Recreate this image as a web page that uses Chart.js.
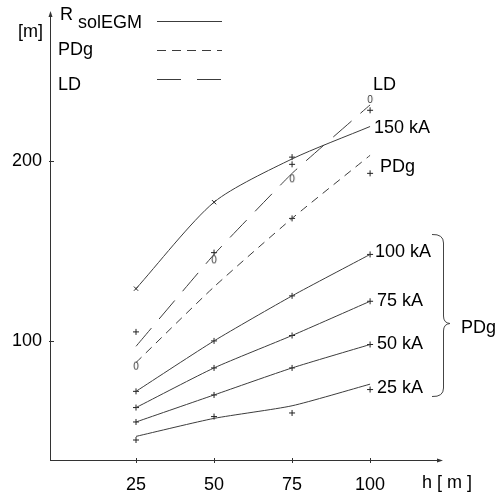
<!DOCTYPE html>
<html>
<head>
<meta charset="utf-8">
<script src="https://cdn.jsdelivr.net/npm/chart.js@4"></script>
<style>
    body { margin: 0; background: #fff; }
    #wrap { width: 496px; height: 497px; }
</style>
</head>
<body>
<div id="wrap"><canvas id="chart" width="496" height="497"></canvas></div>
<script>
/* ================= DATA ================= */
const hValues = [25, 50, 75, 100];
const xTicks = [25, 50, 75, 100];
const yTicks = [100, 200];

// curves
const r150 = [129, 177, 201, 219];
const ldLine = [97, 148, 193, 231];
const pdgLine = [88, 130, 168, 203];
const pdg100 = [72, 100, 125, 148];
const pdg75 = [63, 85, 103, 122];
const pdg50 = [55, 70, 85, 98];
const pdg25 = [47, 57, 64, 76];

// measured points ("+")
const ldPlus = [105, 149, 198, 228];
const pdgPlusH = [75, 100];
const pdgPlus = [168, 193];
const r150PlusH = [75];
const r150Plus = [202];
const pdg100Plus = [72, 100, 125, 148];
const pdg75Plus = [63, 85, 103, 122];
const pdg50Plus = [55, 70, 85, 98];
const pdg25Plus = [45, 58, 60, 73];

// "x" points and "0" points
const crossH = [25, 50];
const crossVals = [129, 177];
const zeroH = [25, 50, 75, 100];
const zeroVals = [86, 145, 190, 234];

const FAMILY = '"Liberation Sans", Arial, sans-serif';
const FONT = '18px ' + FAMILY;
const LINE = '#3c3c3c';

/* ================= HELPERS ================= */
const pts = (hs, vals) => hs.map((h, i) => ({ x: h, y: vals[i] }));

function curve(vals, dash, tension) {
    return {
        data: pts(hValues, vals),
        showLine: true,
        borderColor: LINE,
        borderWidth: 1,
        borderDash: dash || [],
        pointRadius: 0,
        tension: tension === undefined ? 0.2 : tension
    };
}

function marks(hs, vals, style) {
    return {
        data: pts(hs, vals),
        showLine: false,
        pointStyle: style,
        pointRadius: 3,
        borderWidth: 1,
        borderColor: '#222',
        backgroundColor: '#222'
    };
}

// small "0" glyph used as a point style
const zeroGlyph = document.createElement('canvas');
zeroGlyph.width = 8;
zeroGlyph.height = 11;
(() => {
    const g = zeroGlyph.getContext('2d');
    g.font = '10px ' + FAMILY;
    g.fillStyle = '#333';
    g.textAlign = 'center';
    g.textBaseline = 'middle';
    g.fillText('0', 4, 6);
})();

/* ================= ANNOTATIONS / AXES ================= */
const drawing = {
    id: 'drawing',
    afterDraw(chart) {
        const ctx = chart.ctx;
        const a = chart.chartArea;
        const xs = chart.scales.x;
        const ys = chart.scales.y;
        ctx.save();
        ctx.strokeStyle = '#333';
        ctx.fillStyle = '#333';
        ctx.lineWidth = 1;

        // axes with arrows
        ctx.beginPath();
        ctx.moveTo(a.left + 0.5, a.bottom);
        ctx.lineTo(a.left + 0.5, a.top);
        ctx.moveTo(a.left, a.bottom + 0.5);
        ctx.lineTo(a.right, a.bottom + 0.5);
        ctx.stroke();
        ctx.beginPath();
        ctx.moveTo(a.left + 0.5, a.top - 2);
        ctx.lineTo(a.left - 1.5, a.top + 4);
        ctx.lineTo(a.left + 2.5, a.top + 4);
        ctx.closePath();
        ctx.fill();
        ctx.beginPath();
        ctx.moveTo(a.right + 3, a.bottom + 0.5);
        ctx.lineTo(a.right - 3, a.bottom - 1.5);
        ctx.lineTo(a.right - 3, a.bottom + 2.5);
        ctx.closePath();
        ctx.fill();

        // tick marks
        ctx.beginPath();
        xTicks.forEach(v => {
            const px = Math.round(xs.getPixelForValue(v)) + 0.5;
            ctx.moveTo(px, a.bottom - 2);
            ctx.lineTo(px, a.bottom + 3);
        });
        yTicks.forEach(v => {
            const py = Math.round(ys.getPixelForValue(v)) + 0.5;
            ctx.moveTo(a.left - 1, py);
            ctx.lineTo(a.left + 4, py);
        });
        ctx.stroke();

        // texts
        ctx.fillStyle = '#000';
        ctx.font = FONT;
        ctx.textAlign = 'left';
        ctx.textBaseline = 'alphabetic';
        ctx.fillText('[m]', 18, 37);
        ctx.fillText('R', 60, 20);
        ctx.fillText('solEGM', 78, 28);
        ctx.fillText('PDg', 58, 55);
        ctx.fillText('LD', 58, 90);
        ctx.fillText('h [ m ]', 422, 488);

        ctx.fillText('LD', 373, 90);
        ctx.fillText('150 kA', 374, 133);
        ctx.fillText('PDg', 380, 172);
        ctx.fillText('100 kA', 375, 257);
        ctx.fillText('75 kA', 377, 306);
        ctx.fillText('50 kA', 377, 349);
        ctx.fillText('25 kA', 377, 393);
        ctx.fillText('PDg', 461, 333);

        // legend samples
        ctx.strokeStyle = LINE;
        [[21, []], [50, [9, 6]], [79, [24, 16]]].forEach(([y, d]) => {
            ctx.setLineDash(d);
            ctx.beginPath();
            ctx.moveTo(157, y + 0.5);
            ctx.lineTo(222, y + 0.5);
            ctx.stroke();
        });
        ctx.setLineDash([]);

        // brace
        ctx.strokeStyle = '#444';
        ctx.beginPath();
        ctx.moveTo(432, 234.5);
        ctx.quadraticCurveTo(443.5, 234, 443.5, 243);
        ctx.lineTo(443.5, 316);
        ctx.quadraticCurveTo(443.5, 323, 450, 323.5);
        ctx.quadraticCurveTo(443.5, 324, 443.5, 331);
        ctx.lineTo(443.5, 388);
        ctx.quadraticCurveTo(443.5, 397, 432, 396.5);
        ctx.stroke();
        ctx.restore();
    }
};

/* ================= CHART ================= */
new Chart(document.getElementById('chart'), {
    type: 'scatter',
    data: {
        datasets: [
            curve(r150, [], 0.25),
            curve(ldLine, [24, 12], 0.1),
            curve(pdgLine, [8, 6]),
            curve(pdg100),
            curve(pdg75),
            curve(pdg50),
            curve(pdg25),
            marks(hValues, ldPlus, 'cross'),
            marks(pdgPlusH, pdgPlus, 'cross'),
            marks(r150PlusH, r150Plus, 'cross'),
            marks(hValues, pdg100Plus, 'cross'),
            marks(hValues, pdg75Plus, 'cross'),
            marks(hValues, pdg50Plus, 'cross'),
            marks(hValues, pdg25Plus, 'cross'),
            marks(crossH, crossVals, 'crossRot'),
            marks(zeroH, zeroVals, zeroGlyph)
        ]
    },
    options: {
        responsive: false,
        animation: false,
        layout: { padding: { left: 0, top: 13, right: 56, bottom: 0 } },
        plugins: {
            legend: { display: false },
            tooltip: { enabled: false }
        },
        scales: {
            x: {
                type: 'linear',
                min: -2.56,
                max: 122.4,
                afterBuildTicks: s => { s.ticks = xTicks.map(v => ({ value: v })); },
                afterFit: s => {
                    s.height = 37;
                    s.paddingLeft = 0;
                    s.paddingRight = 0;
                },
                grid: { display: false, drawTicks: false },
                border: { display: false },
                ticks: {
                    color: '#000',
                    padding: 14,
                    maxRotation: 0,
                    font: { family: FAMILY, size: 18 }
                }
            },
            y: {
                type: 'linear',
                min: 33.9,
                max: 282,
                afterBuildTicks: s => { s.ticks = yTicks.map(v => ({ value: v })); },
                afterFit: s => {
                    s.width = 50;
                    s.paddingTop = 0;
                    s.paddingBottom = 0;
                },
                grid: { display: false, drawTicks: false },
                border: { display: false },
                ticks: {
                    color: '#000',
                    padding: 8,
                    font: { family: FAMILY, size: 18 }
                }
            }
        }
    },
    plugins: [drawing]
});
</script>
</body>
</html>
